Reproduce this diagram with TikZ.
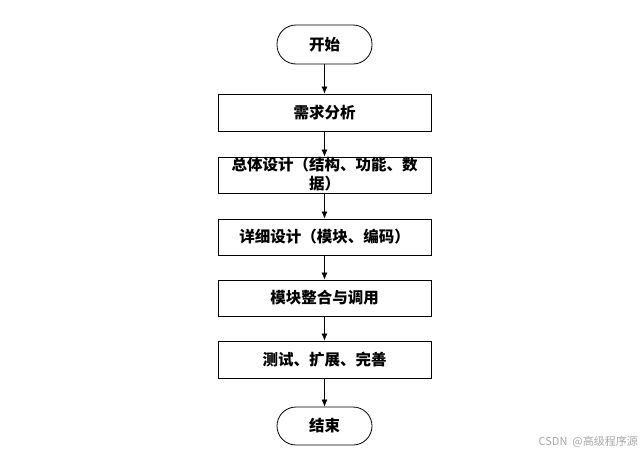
\documentclass[tikz,border=0pt]{standalone}
\usepackage{fontspec}
\newfontfamily\cjk{Noto Sans CJK SC}
\usetikzlibrary{arrows.meta}
\begin{document}
\begin{tikzpicture}[x=1pt,y=-1pt,
  every node/.style={font=\cjk\bfseries\fontsize{15.5}{19}\selectfont, inner sep=0pt},
  term/.style={draw=black, line width=0.8pt, rounded corners=19pt, minimum width=95pt, minimum height=39pt},
  proc/.style={draw=black, line width=0.8pt, minimum width=213pt, minimum height=37pt, align=center},
  flow/.style={draw=black, line width=0.7pt, -{Latex[length=7pt,width=6pt]}}]
\useasboundingbox (0,0) rectangle (643,455);
\node[term] (start) at (324.5,44.5) {开始};
\node[proc] (s1) at (324.5,112.5) {需求分析};
\node[proc, minimum height=36pt] (s2) at (324.5,175) {};
\node (s2t) at (324.5,174) [align=center] {总体设计（结构、功能、数\\据）};
\node[proc, minimum height=36pt] (s3) at (324.5,237) {详细设计（模块、编码）};
\node[proc, minimum height=36pt] (s4) at (324.5,298) {模块整合与调用};
\node[proc, minimum height=37pt] (s5) at (324.5,359.5) {测试、扩展、完善};
\node[term, minimum height=38pt] (end) at (324.5,426) {结束};
\node[font=\cjk\fontsize{11}{13}\selectfont, text=black!35, anchor=east] (wm) at (638,442) {CSDN\ \ @高级程序源};
\draw[flow] (start) -- (s1);
\draw[flow] (s1) -- (s2);
\draw[flow] (s2) -- (s3);
\draw[flow] (s3) -- (s4);
\draw[flow] (s4) -- (s5);
\draw[flow] (s5) -- (end);
\end{tikzpicture}
\end{document}
